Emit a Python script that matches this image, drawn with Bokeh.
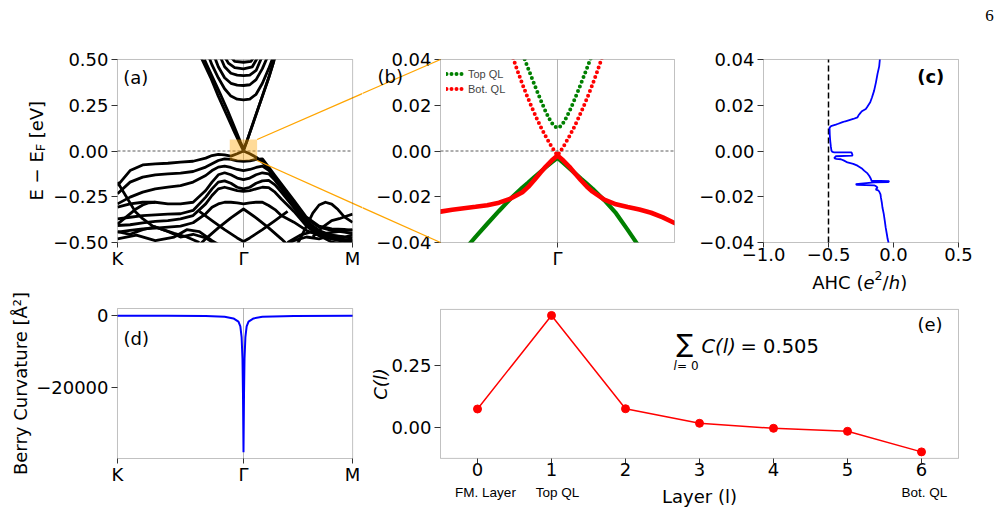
from math import pi

from bokeh.plotting import figure
from bokeh.layouts import row, column
from bokeh.models import (Range1d, FixedTicker, Label, Arrow, BoxAnnotation, Legend, LegendItem)
from bokeh.embed import file_html
from bokeh.resources import INLINE

# ---------------------------------------------------------------- data
# path coordinate: K = 0, Gamma = 1, M = 1.866 (|GM|/|GK| = 0.866)
K_M = 1.866
K_GRID = [0.0, 0.1, 0.2, 0.3, 0.4, 0.5, 0.6, 0.7, 0.75, 0.8, 0.85, 0.9, 0.95, 1.0,
          1.05, 1.1, 1.15, 1.2, 1.25, 1.3, 1.4, 1.5, 1.6, 1.7, 1.8, 1.866]

# valence bands on the common grid (eV)
VB1 = [-0.189, -0.107, -0.076, -0.070, -0.067, -0.061, -0.056, -0.039, -0.025, -0.018, -0.021, -0.028, -0.015,
       0.000, -0.015, -0.034, -0.061, -0.097, -0.143, -0.188, -0.289, -0.371, -0.416, -0.434, -0.443, -0.452]
VB2 = [-0.234, -0.170, -0.143, -0.130, -0.125, -0.121, -0.112, -0.088, -0.070, -0.052, -0.043, -0.046, -0.054,
       -0.057, -0.054, -0.046, -0.043, -0.088, -0.134, -0.179, -0.270, -0.362, -0.410, -0.425, -0.429, -0.434]
VB3 = [-0.289, -0.252, -0.225, -0.207, -0.198, -0.189, -0.170, -0.134, -0.107, -0.088, -0.083, -0.090, -0.101,
       -0.107, -0.101, -0.090, -0.083, -0.105, -0.150, -0.197, -0.295, -0.385, -0.434, -0.462, -0.471, -0.476]
VB4 = [-0.307, -0.289, -0.280, -0.280, -0.289, -0.289, -0.280, -0.216, -0.170, -0.130, -0.119, -0.130, -0.148,
       -0.156, -0.148, -0.130, -0.119, -0.125, -0.160, -0.205, -0.300, -0.389, -0.443, -0.471, -0.483, -0.489]
VB5 = [-0.371, -0.362, -0.353, -0.349, -0.345, -0.343, -0.325, -0.252, -0.207, -0.170, -0.163, -0.176, -0.198,
       -0.207, -0.198, -0.176, -0.163, -0.160, -0.185, -0.225, -0.310, -0.398, -0.452, -0.480, -0.495, -0.502]
VB6 = [-0.407, -0.403, -0.393, -0.385, -0.380, -0.371, -0.353, -0.289, -0.243, -0.207, -0.198, -0.207, -0.216,
       -0.221, -0.216, -0.207, -0.198, -0.200, -0.225, -0.262, -0.330, -0.410, -0.462, -0.498, -0.507, -0.513]
VB7 = [-0.443, -0.434, -0.425, -0.422, -0.416, -0.410, -0.392, -0.343, -0.307, -0.289, -0.280, -0.280, -0.283,
       -0.289, -0.283, -0.280, -0.280, -0.298, -0.320, -0.353, -0.389, -0.434, -0.462, -0.480, -0.489, -0.494]

# shorter valence branches with their own k points
VB8_K = [0.55, 0.7, 0.8, 0.9, 1.0, 1.1, 1.2, 1.3, 1.42]
VB8 = [-0.58, -0.48, -0.42, -0.365, -0.317, -0.365, -0.42, -0.48, -0.56]
VB9_K = [0.65, 0.75, 0.85, 0.95, 1.0, 1.05, 1.15, 1.25, 1.35]
VB9 = [-0.33, -0.38, -0.43, -0.475, -0.495, -0.475, -0.43, -0.38, -0.33]
VB10_K = [0.0, 0.07, 0.14, 0.2, 0.28, 0.36, 0.45, 0.55, 0.65]
VB10 = [-0.17, -0.25, -0.33, -0.37, -0.41, -0.43, -0.45, -0.47, -0.50]
VB11_K = [0.0, 0.07, 0.14, 0.2, 0.25, 0.3]
VB11 = [-0.40, -0.36, -0.32, -0.295, -0.283, -0.28]
VB12_K = [0.0, 0.1, 0.2, 0.3, 0.4, 0.5, 0.6, 0.7, 0.8]
VB12 = [-0.44, -0.455, -0.43, -0.415, -0.44, -0.47, -0.455, -0.475, -0.52]
VB13_K = [0.0, 0.15, 0.3, 0.45, 0.55, 0.65, 0.75, 0.85]
VB13 = [-0.48, -0.46, -0.49, -0.47, -0.43, -0.44, -0.49, -0.53]
VB14_K = [1.42, 1.5, 1.55, 1.6, 1.65, 1.7, 1.75, 1.8, 1.866]
VB14 = [-0.52, -0.41, -0.34, -0.295, -0.28, -0.29, -0.32, -0.36, -0.39]
VB15_K = [1.55, 1.62, 1.7, 1.76, 1.82, 1.866]
VB15 = [-0.47, -0.42, -0.38, -0.37, -0.355, -0.345]
VB16_K = [1.35, 1.45, 1.55, 1.65, 1.75, 1.866]
VB16 = [-0.50, -0.46, -0.44, -0.45, -0.44, -0.43]
VB17_K = [1.3, 1.4, 1.5, 1.6, 1.7, 1.8, 1.866]
VB17 = [-0.52, -0.49, -0.47, -0.48, -0.46, -0.47, -0.46]

# conduction bands
CB1_K = [0.6, 0.671, 0.74, 0.80, 0.865, 0.93, 0.965, 1.0, 1.05, 1.1, 1.15, 1.2, 1.245, 1.3]
CB1 = [0.6, 0.5, 0.4, 0.3, 0.2, 0.1, 0.05, 0.0, 0.1, 0.2, 0.3, 0.4, 0.5, 0.61]
CB2_K = [0.69, 0.75, 0.81, 0.875, 0.94, 0.975, 1.0, 1.025, 1.055, 1.105, 1.155, 1.2, 1.24]
CB2 = [0.5, 0.41, 0.32, 0.22, 0.11, 0.05, 0.01, 0.05, 0.11, 0.21, 0.31, 0.40, 0.49]
CB3_K = [0.7, 0.75, 0.8, 0.85, 0.9, 0.95, 1.0, 1.05, 1.1, 1.15, 1.2, 1.25]
CB3 = [0.56, 0.47, 0.40, 0.34, 0.30, 0.283, 0.279, 0.284, 0.31, 0.37, 0.45, 0.54]
CB4_K = [0.75, 0.8, 0.85, 0.9, 0.95, 1.0, 1.05, 1.1, 1.15, 1.2]
CB4 = [0.55, 0.46, 0.40, 0.37, 0.36, 0.358, 0.362, 0.39, 0.45, 0.53]
CB5_K = [0.8, 0.85, 0.9, 0.95, 1.0, 1.05, 1.1, 1.15]
CB5 = [0.54, 0.46, 0.425, 0.415, 0.412, 0.415, 0.44, 0.52]
CB6_K = [0.83, 0.88, 0.93, 1.0, 1.07, 1.12]
CB6 = [0.54, 0.48, 0.455, 0.449, 0.46, 0.52]
CB7_K = [0.88, 0.93, 1.0, 1.06, 1.1]
CB7 = [0.53, 0.49, 0.485, 0.49, 0.53]

# zoom near Gamma: layer-projected surface bands
ZX_UP = [-0.42, -0.38, -0.34, -0.30, -0.26, -0.22, -0.18, -0.14, -0.10, -0.06, -0.03, 0.0,
         0.03, 0.06, 0.10, 0.14, 0.18, 0.22, 0.26, 0.30, 0.34, 0.38, 0.42]
TOP_UP = [0.0584, 0.0533, 0.0480, 0.0426, 0.0373, 0.0320, 0.0268, 0.0218, 0.0171, 0.0131, 0.0109, 0.0101,
          0.0109, 0.0131, 0.0171, 0.0218, 0.0268, 0.0320, 0.0373, 0.0426, 0.0480, 0.0533, 0.0584]
BOT_UP = [0.0469, 0.0407, 0.0348, 0.0292, 0.0240, 0.0191, 0.0145, 0.0102, 0.0063, 0.0027, 0.0003, -0.0020,
          0.0003, 0.0027, 0.0063, 0.0102, 0.0145, 0.0191, 0.0240, 0.0292, 0.0348, 0.0407, 0.0469]
ZX_LO = [-1.0, -0.9, -0.8, -0.7, -0.6, -0.5, -0.4, -0.3, -0.25, -0.2, -0.15, -0.1, -0.05, 0.0,
         0.05, 0.1, 0.15, 0.2, 0.25, 0.3, 0.4, 0.5, 0.6, 0.7, 0.8, 0.9, 1.0]
TOP_LO = [-0.0560, -0.0500, -0.0435, -0.0375, -0.0318, -0.0262, -0.0208, -0.0160, -0.0138, -0.0115, -0.0093,
          -0.0071, -0.0050, -0.0030, -0.0052, -0.0075, -0.0098, -0.0121, -0.0143, -0.0165, -0.0215, -0.0272,
          -0.0345, -0.0420, -0.0500, -0.0580, -0.0660]
BOT_LO = [-0.0265, -0.0257, -0.0250, -0.0244, -0.0237, -0.0226, -0.0208, -0.0180, -0.0157, -0.0128, -0.0097,
          -0.0068, -0.0042, -0.0020, -0.0042, -0.0068, -0.0098, -0.0128, -0.0155, -0.0178, -0.0213, -0.0233,
          -0.0245, -0.0256, -0.0270, -0.0290, -0.0315]

# anomalous Hall conductivity versus energy
AHC_X = [-0.105, -0.110, -0.123, -0.135, -0.149, -0.165, -0.179, -0.200, -0.213, -0.240, -0.251, -0.270,
         -0.277, -0.310, -0.328, -0.370, -0.392, -0.430, -0.444, -0.475, -0.482, -0.492, -0.490, -0.487,
         -0.482, -0.477, -0.470, -0.456, -0.323, -0.318, -0.315, -0.444, -0.456, -0.440, -0.405, -0.380,
         -0.354, -0.310, -0.277, -0.240, -0.226, -0.200, -0.187, -0.175, -0.169, -0.033, -0.040, -0.149,
         -0.290, -0.280, -0.149, -0.140, -0.123, -0.136, -0.118, -0.110, -0.100, -0.097, -0.090, -0.085,
         -0.075, -0.067, -0.060, -0.051, -0.045, -0.038]
AHC_E = [0.0400, 0.0370, 0.0337, 0.0300, 0.0264, 0.0235, 0.0213, 0.0195, 0.0184, 0.0175, 0.0169, 0.0155,
         0.0147, 0.0140, 0.0137, 0.0130, 0.0126, 0.0118, 0.0115, 0.0110, 0.0108, 0.0101, 0.0070, 0.0045,
         0.0020, 0.0001, -0.0004, -0.0006, -0.0006, -0.0013, -0.0020, -0.0023, -0.0031, -0.0034, -0.0036,
         -0.0042, -0.0050, -0.0056, -0.0064, -0.0078, -0.0086, -0.0098, -0.0108, -0.0120, -0.0130, -0.0132,
         -0.0136, -0.0137, -0.0145, -0.0148, -0.0150, -0.0152, -0.0159, -0.0169, -0.0172, -0.0177, -0.0190,
         -0.0203, -0.0225, -0.0247, -0.0275, -0.0305, -0.0335, -0.0364, -0.0385, -0.0400]

# Berry curvature along K - Gamma - M
BC_K = [0.0, 0.4, 0.7, 0.85, 0.92, 0.96, 0.975, 0.985, 0.992, 0.996, 1.0, 1.004, 1.008, 1.015, 1.025,
        1.04, 1.08, 1.15, 1.4, 1.866]
BC_VAL = [-60, -80, -150, -350, -800, -1700, -3000, -6000, -12000, -22000, -37800, -22000, -12000, -6000,
          -3000, -1700, -800, -350, -120, -60]

# layer-resolved Chern number
LAYERS = [0, 1, 2, 3, 4, 5, 6]
C_LAYER = [0.075, 0.448, 0.076, 0.018, -0.002, -0.014, -0.096]

# ---------------------------------------------------------------- style
FONT = "DejaVu Sans"
AXC = "#333333"
GAMMA_LINE = "#b4b4b4"


def make_fig(w, h, xr, yr, box):
    """Figure whose frame fills the canvas; the axes are pinned to the panel box."""
    p = figure(width=w, height=h, x_range=Range1d(*xr), y_range=Range1d(*yr),
               output_backend="svg", toolbar_location=None,
               min_border_left=0, min_border_right=0, min_border_top=0, min_border_bottom=0)
    p.grid.visible = False
    p.outline_line_color = None
    p.background_fill_color = "white"
    p.border_fill_color = "white"
    left, right, bottom, top = box
    p.xaxis.fixed_location = bottom
    p.yaxis.fixed_location = left
    for ax in p.axis:
        ax.axis_line_color = None
        ax.major_tick_line_color = AXC
        ax.minor_tick_line_color = None
        ax.major_tick_in = 0
        ax.major_label_text_font = FONT
        ax.major_label_text_font_size = "18px"
        ax.major_label_text_color = "black"
    p.yaxis.major_tick_out = 6
    p.yaxis.major_label_standoff = 3
    p.xaxis.major_tick_out = 5
    p.xaxis.major_label_standoff = 0
    return p


def frame_box(p, box):
    left, right, bottom, top = box
    p.add_layout(BoxAnnotation(left=left, right=right, bottom=bottom, top=top,
                               fill_color=None, fill_alpha=0, line_color=AXC, line_width=1))


def mask_outside(p, xr, yr, box):
    # white quads around the panel box so curves stop at its edges
    left, right, bottom, top = box
    p.quad(left=[xr[0], xr[0], xr[0], right], right=[xr[1], xr[1], left, xr[1]],
           bottom=[top, yr[0], bottom, bottom], top=[yr[1], bottom, top, top],
           fill_color="white", line_color=None)


def ticks(axis, values, labels=None):
    axis.ticker = FixedTicker(ticks=values)
    if labels is not None:
        axis.major_label_overrides = dict(zip(values, labels))


def txt(p, x, y, s, size=18, align="left", baseline="middle", style="normal",
        font=FONT, angle=0.0, color="black"):
    p.add_layout(Label(x=x, y=y, text=s, text_font=font, text_font_size=f"{size}px",
                       text_align=align, text_baseline=baseline, text_font_style=style,
                       angle=angle, text_color=color))


E_TICKS = [-0.5, -0.25, 0.0, 0.25, 0.5]
E_LABELS = ["\u22120.50", "\u22120.25", "0.00", "0.25", "0.50"]
Z_TICKS = [-0.04, -0.02, 0.0, 0.02, 0.04]
Z_LABELS = ["\u22120.04", "\u22120.02", "0.00", "0.02", "0.04"]

# ---------------------------------------------------------------- (a) bands
XR_A = (-0.928571, 1.944444)
YR_A = (-0.707650, 0.822404)
BOX_A = (0.0, K_M, -0.5, 0.5)
pa = make_fig(362, 280, XR_A, YR_A, BOX_A)
ticks(pa.xaxis, [0.0, 1.0, K_M], ["K", "\u0393", "M"])
ticks(pa.yaxis, E_TICKS, E_LABELS)
pa.segment(x0=[1.0], y0=[-0.5], x1=[1.0], y1=[0.5], line_color=GAMMA_LINE, line_width=1)

band_x = [K_GRID] * 7 + [VB8_K, VB9_K, VB10_K, VB11_K, VB12_K, VB13_K, VB14_K, VB15_K, VB16_K, VB17_K,
                         CB1_K, CB2_K, CB3_K, CB4_K, CB5_K, CB6_K, CB7_K]
band_y = [VB1, VB2, VB3, VB4, VB5, VB6, VB7, VB8, VB9, VB10, VB11, VB12, VB13, VB14, VB15, VB16, VB17,
          CB1, CB2, CB3, CB4, CB5, CB6, CB7]
pa.multi_line(xs=band_x, ys=band_y, line_color="black", line_width=2.8, line_join="round")
pa.segment(x0=[0.0], y0=[0.0], x1=[K_M], y1=[0.0], line_color="#333333", line_width=0.8, line_dash="3 2")
mask_outside(pa, XR_A, YR_A, BOX_A)
pa.add_layout(BoxAnnotation(left=0.891, right=1.108, bottom=-0.052, top=0.063,
                            fill_color="orange", fill_alpha=0.4, line_color=None))
for y0, y1 in [(0.063, 0.5), (-0.052, -0.5)]:
    pa.add_layout(Arrow(end=None, x_start=1.108, y_start=y0, x_end=2.563, y_end=y1,
                        line_color="orange", line_width=1.3))
frame_box(pa, BOX_A)
txt(pa, 0.045, 0.403, "(a)")
# y label  E − E_F [eV]
txt(pa, -0.643, -0.2705, "E \u2212 E", angle=pi / 2)
txt(pa, -0.643 + 0.03, -0.0011, "F", size=13, angle=pi / 2)
txt(pa, -0.643, 0.0694, "[eV]", angle=pi / 2)

# ---------------------------------------------------------------- (b) zoom
XR_B = (-1.666667, 1.188034)
YR_B = (-0.0636065, 0.0657923)
BOX_B = (-1.0, 1.0, -0.04, 0.04)
pb = make_fig(334, 296, XR_B, YR_B, BOX_B)
ticks(pb.xaxis, [0.0], ["\u0393"])
ticks(pb.yaxis, Z_TICKS, Z_LABELS)
pb.segment(x0=[0.0], y0=[-0.04], x1=[0.0], y1=[0.04], line_color=GAMMA_LINE, line_width=1)
pb.segment(x0=[-1.0], y0=[0.0], x1=[1.0], y1=[0.0], line_color="#333333", line_width=0.8, line_dash="3 2")
pb.line(ZX_LO, TOP_LO, line_color="#008000", line_width=4.2, line_cap="round")
pb.line(ZX_LO, BOT_LO, line_color="#ff0000", line_width=4.6, line_cap="round")
r_top = pb.line(ZX_UP, TOP_UP, line_color="#008000", line_width=4.0, line_dash="0 5", line_cap="round")
r_bot = pb.line(ZX_UP, BOT_UP, line_color="#ff0000", line_width=4.0, line_dash="0 5", line_cap="round")
mask_outside(pb, XR_B, YR_B, BOX_B)
leg = Legend(items=[LegendItem(label="Top QL", renderers=[r_top]),
                    LegendItem(label="Bot. QL", renderers=[r_bot])],
             location=(80, 196), margin=0, padding=4, spacing=0, glyph_width=18, glyph_height=15,
             label_height=15, label_standoff=4, label_text_font="Liberation Sans",
             label_text_font_size="11px", border_line_alpha=0, background_fill_alpha=0)
pb.add_layout(leg)
for y0, y1 in [(0.00503, 0.04), (-0.00415, -0.04)]:
    pb.add_layout(Arrow(end=None, x_start=-2.573, y_start=y0, x_end=-1.0, y_end=y1,
                        line_color="orange", line_width=1.3))
frame_box(pb, BOX_B)
txt(pb, -1.538, 0.0325, "(b)")

# ---------------------------------------------------------------- (c) AHC
XR_C = (-1.515385, 0.846154)
YR_C = YR_B
BOX_C = (-1.0, 0.5, -0.04, 0.04)
pc = make_fig(307, 296, XR_C, YR_C, BOX_C)
ticks(pc.xaxis, [-1.0, -0.5, 0.0, 0.5], ["\u22121.0", "\u22120.5", "0.0", "0.5"])
ticks(pc.yaxis, Z_TICKS, Z_LABELS)
pc.segment(x0=[-0.5], y0=[-0.04], x1=[-0.5], y1=[0.04], line_color="black", line_width=1.5, line_dash="6 3")
pc.line(AHC_X, AHC_E, line_color="#0000ff", line_width=1.8)
frame_box(pc, BOX_C)
txt(pc, 0.182, 0.0325, "(c)", style="bold")
# x label  AHC (e²/h)
ylab = -0.0573
txt(pc, -0.625, ylab, "AHC (")
txt(pc, -0.231, ylab, "e", style="italic")
txt(pc, -0.146, ylab + 0.0029, "2", size=12.6)
txt(pc, -0.084, ylab, "/")
txt(pc, -0.037, ylab, "h", style="italic")
txt(pc, 0.051, ylab, ")")
txt(pc, 0.738, 0.0592, "6", size=17, align="center", font="Liberation Serif")

# ---------------------------------------------------------------- (d) Berry curvature
XR_D = XR_A
YR_D = (-54490, 9681)
BOX_D = (0.0, K_M, -39557, 1936)
pd_ = make_fig(362, 232, XR_D, YR_D, BOX_D)
ticks(pd_.xaxis, [0.0, 1.0, K_M], ["K", "\u0393", "M"])
ticks(pd_.yaxis, [-20000, 0], ["\u221220000", "0"])
pd_.segment(x0=[1.0], y0=[-39557], x1=[1.0], y1=[1936], line_color=GAMMA_LINE, line_width=1)
pd_.line(BC_K, BC_VAL, line_color="#0000ff", line_width=2)
frame_box(pd_, BOX_D)
txt(pd_, 0.048, -6446, "(d)")
txt(pd_, -0.7698, -18809, "Berry Curvature [\u00c5\u00b2]", align="center", angle=pi / 2)

# ---------------------------------------------------------------- (e) layer Chern number
XR_E = (-1.554054, 7.108108)
YR_E = (-0.337719, 0.523525)
BOX_E = (-0.5, 6.5, -0.122, 0.472)
pe = make_fig(641, 216, XR_E, YR_E, BOX_E)
ticks(pe.xaxis, LAYERS)
ticks(pe.yaxis, [0.0, 0.25], ["0.00", "0.25"])
pe.line(LAYERS, C_LAYER, line_color="#ff0000", line_width=1.5)
pe.scatter(LAYERS, C_LAYER, size=8, fill_color="#ff0000", line_color="#ff0000")
frame_box(pe, BOX_E)
txt(pe, 5.946, 0.412, "(e)")
txt(pe, 2.69, 0.338, "\u2211", size=25)
txt(pe, 2.65, 0.248, "l", size=12, style="italic")
txt(pe, 2.697, 0.248, "= 0", size=12)
txt(pe, 3.027, 0.324, "C(l)", size=19.5, style="italic")
txt(pe, 3.554, 0.324, "= 0.505", size=19.5)
txt(pe, 3.0, -0.2759, "Layer (l)", align="center")
txt(pe, -1.311, 0.1746, "C(l)", align="center", style="italic", angle=pi / 2)
for xx, s in [(0.108, "FM. Layer"), (1.08, "Top QL"), (6.04, "Bot. QL")]:
    txt(pe, xx, -0.258, s, size=13.5, align="center", font="Liberation Sans")

layout = row(column(pa, pd_, spacing=0),
             column(row(pb, pc, spacing=0), pe, spacing=0),
             spacing=0)

open("out.html", "w").write(file_html(layout, INLINE))
